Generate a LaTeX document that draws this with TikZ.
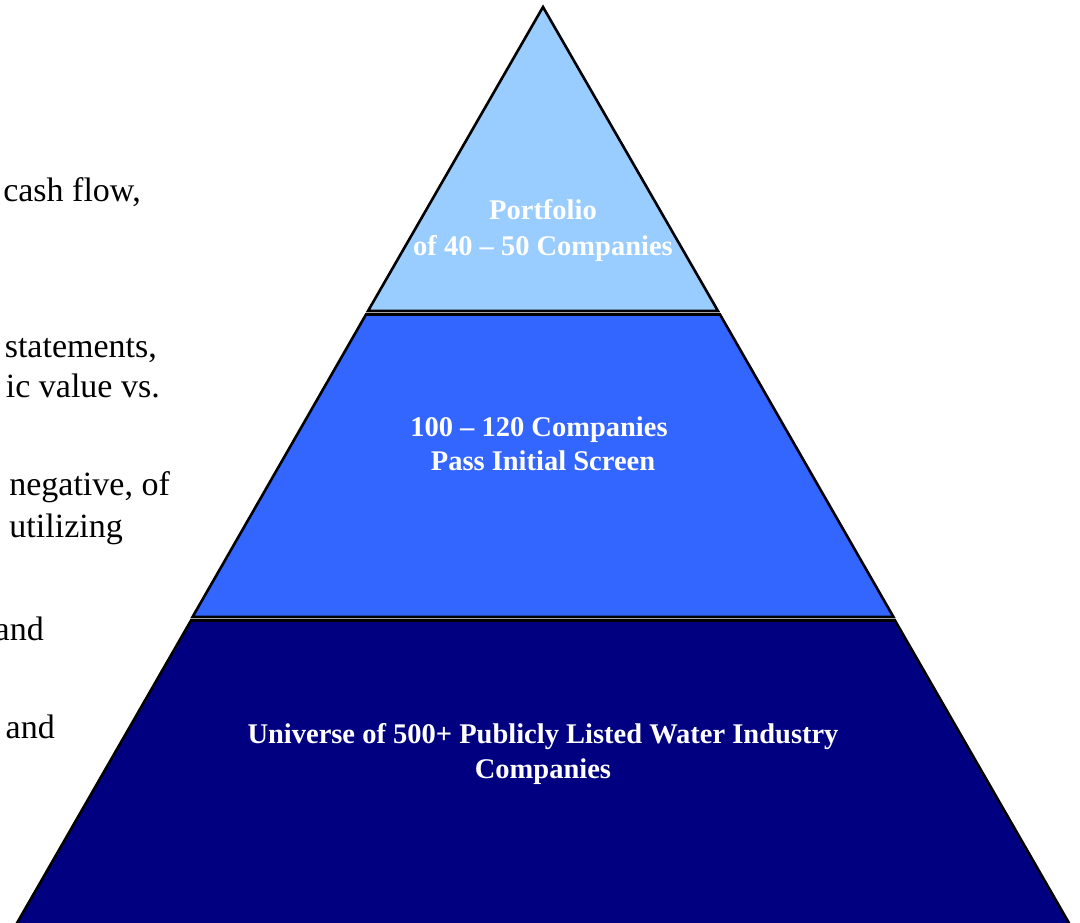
\documentclass[tikz,border=0pt]{standalone}
\usepackage{fontspec}
\setmainfont{Liberation Serif}
\definecolor{tierTop}{HTML}{99CCFF}
\definecolor{tierMid}{HTML}{3366FF}
\definecolor{tierBase}{HTML}{000080}

\begin{document}
\begin{tikzpicture}[x=1pt,y=-1pt]
     % Define styles
     \tikzstyle{tier} = [draw=black, line width=2.6pt, line join=miter]
     \tikzstyle{tierlabel} = [text=white, anchor=base, inner sep=0pt, font=\fontsize{28.5}{35}\selectfont\bfseries]
     \tikzstyle{sidetext} = [anchor=base east, inner sep=0pt, font=\fontsize{34}{40}\selectfont]

     \useasboundingbox (0,0) rectangle (1080,923);

     % Pyramid tiers
     \draw[tier, fill=tierTop]  (543,7)   -- (718,311) -- (368,311) -- cycle;
     \draw[tier, fill=tierMid]  (366,314.5) -- (720,314.5) -- (893.5,617) -- (192.5,617) -- cycle;
     \draw[tier, fill=tierBase] (191,620.5) -- (895,620.5) -- (1073,930)  -- (13,930)    -- cycle;

     % Tier labels
     \node[tierlabel] (topA)  at (543,220) {Portfolio};
     \node[tierlabel] (topB)  at (543,255) {of 40 -- 50 Companies};
     \node[tierlabel] (midA)  at (539,436) {100 -- 120 Companies};
     \node[tierlabel] (midB)  at (543,470) {Pass Initial Screen};
     \node[tierlabel] (baseA) at (543,743) {Universe of 500+ Publicly Listed Water Industry};
     \node[tierlabel] (baseB) at (543,778) {Companies};

     % Side text (cut off at the left edge)
     \node[sidetext] (cashflow) at (141,202) {cash flow,};
     \node[sidetext] (statem)   at (157,357) {statements,};
     \node[sidetext] (intrval)  at (160,397) {ic value vs.};
     \node[sidetext] (negof)    at (170,495) {negative, of};
     \node[sidetext] (utiliz)   at (123,537) {utilizing};
     \node[sidetext] (andA)     at (44,640)  {and};
     \node[sidetext] (andB)     at (55,738)  {and};
\end{tikzpicture}
\end{document}
